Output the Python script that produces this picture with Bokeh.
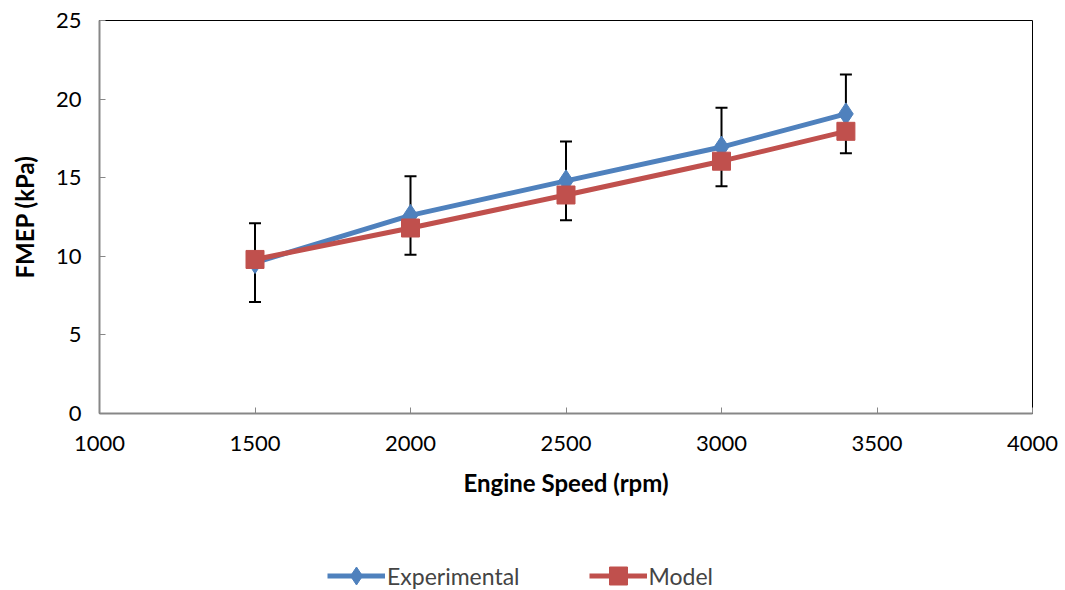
from bokeh.plotting import figure
from bokeh.layouts import column
from bokeh.models import ColumnDataSource, Whisker, Legend, LegendItem, FixedTicker, Range1d
from bokeh.embed import file_html
from bokeh.resources import INLINE

speed = [1500, 2000, 2500, 3000, 3400]
experimental = [9.6, 12.6, 14.8, 16.95, 19.06]
model = [9.8, 11.8, 13.9, 16.05, 17.95]
err = [2.5, 2.5, 2.5, 2.5, 2.5]
x_ticks = [1000, 1500, 2000, 2500, 3000, 3500, 4000]
y_ticks = [0, 5, 10, 15, 20, 25]

FONT = "Lato"
BLUE = "#4F81BD"
RED = "#C0504D"

p = figure(width=1065, height=530, output_backend="svg", toolbar_location=None,
           x_range=Range1d(1000, 4000), y_range=Range1d(0, 25),
           min_border_left=99, min_border_right=33, min_border_top=20, min_border_bottom=117)
p.outline_line_color = "black"
p.outline_line_width = 1
p.xgrid.visible = False
p.ygrid.visible = False
p.background_fill_color = "white"
p.border_fill_color = "white"

for ax in (p.xaxis[0], p.yaxis[0]):
    ax.axis_line_color = "#878787"
    ax.axis_line_width = 2
    ax.major_tick_line_color = "#878787"
    ax.major_tick_in = 6
    ax.major_tick_out = 0
    ax.minor_tick_line_color = None
    ax.major_label_text_font = FONT
    ax.major_label_text_font_size = "22px"
    ax.major_label_text_color = "black"
    ax.axis_label_text_font = FONT
    ax.axis_label_text_font_size = "24px"
    ax.axis_label_text_font_style = "bold"
    ax.axis_label_text_color = "black"

p.xaxis.ticker = FixedTicker(ticks=x_ticks)
p.yaxis.ticker = FixedTicker(ticks=y_ticks)
p.xaxis.axis_label = "Engine Speed (rpm)"
p.yaxis.axis_label = "FMEP (kPa)"
p.xaxis.major_label_standoff = 22
p.xaxis.axis_label_standoff = 14
p.yaxis.major_label_standoff = 18
p.yaxis.axis_label_standoff = 14

src = ColumnDataSource(dict(
    x=speed, exp=experimental, mod=model,
    lower=[e - d for e, d in zip(experimental, err)],
    upper=[e + d for e, d in zip(experimental, err)],
))

w = Whisker(source=src, base="x", lower="lower", upper="upper",
            line_color="black", line_width=2, level="underlay")
for h in (w.upper_head, w.lower_head):
    h.size = 12
    h.line_width = 2
    h.line_color = "black"
p.add_layout(w)

p.line("x", "exp", source=src, line_color=BLUE, line_width=5)
p.scatter("x", "exp", source=src, marker="diamond", size=22,
          fill_color=BLUE, line_color=BLUE)
p.line("x", "mod", source=src, line_color=RED, line_width=5)
p.scatter("x", "mod", source=src, marker="square", size=18,
          fill_color=RED, line_color=RED)

# legend strip below the chart (legend-only renderers sit outside the visible range)
lg = figure(width=1065, height=60, output_backend="svg", toolbar_location=None,
            x_range=Range1d(0, 1), y_range=Range1d(0, 1),
            x_axis_type=None, y_axis_type=None,
            min_border=0, outline_line_color=None)
lg.grid.visible = False
hidden = ColumnDataSource(dict(x=[-10, -11], y=[-10, -11]))
el1 = lg.line("x", "y", source=hidden, line_color=BLUE, line_width=5)
es1 = lg.scatter("x", "y", source=hidden, marker="diamond", size=22,
                 fill_color=BLUE, line_color=BLUE)
el2 = lg.line("x", "y", source=hidden, line_color=RED, line_width=5)
es2 = lg.scatter("x", "y", source=hidden, marker="square", size=18,
                 fill_color=RED, line_color=RED)
legend = Legend(items=[LegendItem(label="Experimental", renderers=[el1, es1]),
                       LegendItem(label="Model", renderers=[el2, es2])],
                orientation="horizontal", location=(228, -8),
                label_text_font=FONT, label_text_font_size="23px",
                glyph_width=58, glyph_height=45, spacing=69, label_standoff=2,
                border_line_color=None, background_fill_alpha=0, padding=0, margin=0)
lg.add_layout(legend, "center")

layout = column(p, lg, spacing=0)
open("out.html", "w").write(file_html(layout, INLINE))
